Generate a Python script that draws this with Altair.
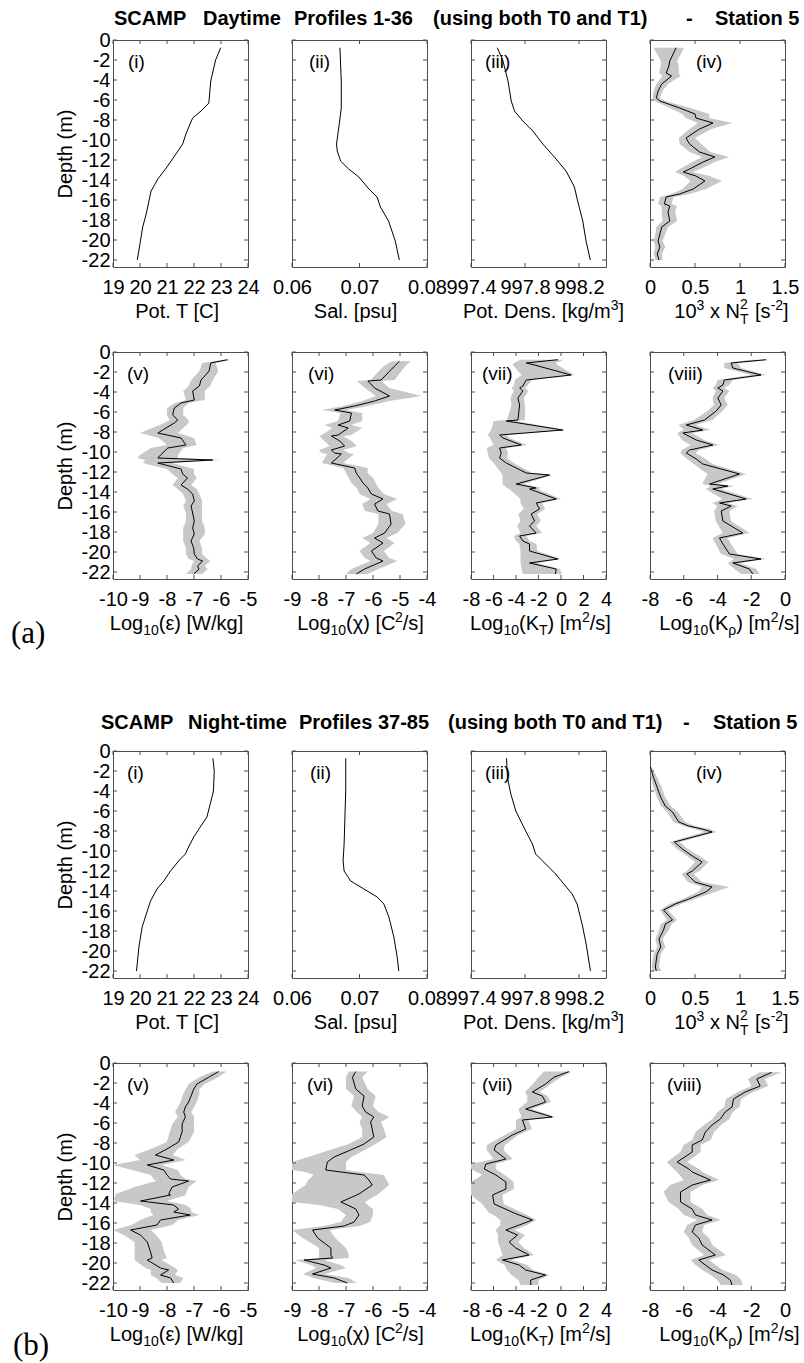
import altair as alt
import pandas as pd

# ---------------- layout / style constants ----------------
W, H = 135, 227
YDOM = [-22.7, 0.0]
YTICKS = [0, -2, -4, -6, -8, -10, -12, -14, -16, -18, -20, -22]
FONT = "Liberation Sans"
SERIF = "Liberation Serif"
BAND = "#c8c8c8"
FRAME = "#4d4d4d"
TICK_LEN = 4
NB = "\u00a0"

# ---------------- x axes ----------------
T_DOM, T_TICKS = [19, 24], [19, 20, 21, 22, 23, 24]
S_DOM, S_TICKS = [0.06, 0.08], [0.06, 0.07, 0.08]
R_DOM, R_TICKS = [997.4, 998.4], [997.4, 997.8, 998.2]
N_DOM, N_TICKS = [0, 1.5], [0, 0.5, 1, 1.5]
E_DOM, E_TICKS = [-10, -5], [-10, -9, -8, -7, -6, -5]
C_DOM, C_TICKS = [-9, -4], [-9, -8, -7, -6, -5, -4]
KT_DOM, KT_TICKS = [-8, 4], [-8, -6, -4, -2, 0, 2, 4]
KR_DOM, KR_TICKS = [-8, 0], [-8, -6, -4, -2, 0]

# ---------------- (a) Daytime profiles ----------------
a_T_d = [-0.77, -2.0, -4.1, -6.3, -7.1, -7.8, -9.4, -10.4, -11.4, -12.8, -13.9, -15.1, -17.4, -18.7, -20.7, -22.0]
a_T = [22.99, 22.80, 22.62, 22.55, 22.26, 21.95, 21.70, 21.58, 21.33, 20.97, 20.66, 20.41, 20.23, 20.10, 19.98, 19.90]

a_S_d = [-0.77, -4.1, -6.8, -8.4, -9.4, -10.4, -11.1, -12.1, -12.9, -13.7, -14.9, -15.7, -16.7, -18.1, -20.1, -22.0]
a_S = [0.0671, 0.0673, 0.0673, 0.0670, 0.0668, 0.0666, 0.0667, 0.0672, 0.0684, 0.0699, 0.0714, 0.0726, 0.0731, 0.0743, 0.0753, 0.0759]

a_R_d = [-0.77, -2.1, -4.1, -6.1, -7.1, -8.1, -9.1, -10.4, -11.7, -13.1, -14.7, -16.1, -18.1, -20.1, -22.0]
a_R = [997.595, 997.637, 997.674, 997.698, 997.722, 997.784, 997.858, 997.932, 998.018, 998.104, 998.166, 998.190, 998.228, 998.252, 998.284]

a_N_d = [-0.77, -2.1, -2.6, -3.3, -3.6, -4.4, -5.1, -5.8, -6.1, -6.8, -7.4, -7.8, -8.3, -8.9, -9.8, -10.4, -11.2, -11.7, -12.2, -12.9,
         -13.2, -13.6, -14.1, -14.9, -15.4, -15.7, -16.4, -16.6, -17.2, -18.1, -18.7, -19.4, -20.1, -20.7, -21.4, -22.0]
a_N = [0.29, 0.22, 0.21, 0.18, 0.24, 0.13, 0.09, 0.07, 0.11, 0.33, 0.50, 0.51, 0.70, 0.55, 0.40, 0.44, 0.55, 0.72, 0.59, 0.44,
       0.37, 0.51, 0.61, 0.48, 0.33, 0.18, 0.16, 0.22, 0.20, 0.22, 0.13, 0.11, 0.09, 0.11, 0.08, 0.10]
a_N_lo = [0.04, 0.12, 0.12, 0.10, 0.14, 0.07, 0.04, 0.03, 0.05, 0.22, 0.36, 0.40, 0.53, 0.44, 0.32, 0.33, 0.44, 0.58, 0.47, 0.33,
          0.28, 0.38, 0.45, 0.36, 0.24, 0.11, 0.09, 0.13, 0.13, 0.14, 0.07, 0.06, 0.04, 0.06, 0.04, 0.06]
a_N_hi = [0.38, 0.30, 0.32, 0.32, 0.34, 0.20, 0.14, 0.11, 0.17, 0.45, 0.66, 0.66, 0.92, 0.68, 0.50, 0.57, 0.67, 0.88, 0.72, 0.56,
          0.47, 0.66, 0.80, 0.62, 0.44, 0.26, 0.24, 0.30, 0.28, 0.30, 0.20, 0.17, 0.14, 0.17, 0.13, 0.14]

a_E_d = [-0.77, -1.1, -1.9, -2.8, -3.4, -3.9, -4.8, -5.1, -5.6, -6.3, -6.8, -7.1, -8.1, -8.6, -9.3, -9.6, -10.3, -10.6, -10.8, -11.1,
         -11.7, -12.2, -12.6, -13.3, -13.7, -14.2, -14.9, -15.4, -16.1, -16.9, -17.6, -18.2, -18.9, -19.6, -20.2, -20.7, -20.9, -21.4, -21.7, -22.2]
a_E = [-5.76, -6.38, -6.44, -6.74, -6.80, -7.05, -6.99, -7.48, -7.73, -7.79, -7.60, -7.73, -8.34, -7.48, -7.30, -7.97, -8.24, -8.34, -6.31, -8.34,
       -7.48, -7.42, -7.24, -7.48, -7.24, -7.05, -6.99, -7.11, -7.05, -6.99, -7.05, -6.99, -7.11, -7.01, -6.99, -6.87, -6.68, -6.87, -6.81, -7.01]
a_E_lo = [-5.9, -6.7, -6.8, -7.1, -7.2, -7.4, -7.3, -7.7, -8.0, -8.0, -7.9, -8.1, -9.0, -8.3, -8.0, -8.6, -9.0, -9.1, -8.8, -8.9,
          -8.0, -7.8, -7.6, -7.8, -7.6, -7.4, -7.3, -7.4, -7.3, -7.3, -7.4, -7.4, -7.4, -7.3, -7.3, -7.2, -7.0, -7.1, -7.1, -7.3]
a_E_hi = [-5.6, -6.2, -6.1, -6.3, -6.4, -6.6, -6.6, -7.2, -7.4, -7.4, -7.2, -7.2, -7.6, -7.0, -6.9, -7.4, -7.6, -7.6, -6.0, -7.8,
          -7.0, -7.0, -6.9, -7.1, -6.9, -6.8, -6.7, -6.7, -6.7, -6.7, -6.6, -6.6, -6.8, -6.7, -6.7, -6.5, -6.4, -6.6, -6.5, -6.7]

a_C_d = [-0.93, -1.4, -2.8, -2.9, -3.6, -4.4, -4.9, -5.4, -5.8, -6.1, -6.9, -7.3, -7.6, -8.3, -8.4, -8.9, -9.4, -9.8, -10.1, -10.2,
         -11.1, -11.6, -12.1, -12.6, -13.1, -13.6, -14.2, -14.7, -15.2, -15.9, -16.2, -17.2, -18.1, -18.6, -19.1, -19.9, -20.6, -20.9, -21.7, -22.2]
a_C = [-5.02, -5.20, -5.70, -6.19, -5.94, -5.39, -5.94, -6.68, -7.42, -6.80, -6.86, -7.29, -6.92, -7.29, -7.54, -7.23, -7.05, -7.54, -7.42, -7.17,
       -7.54, -6.68, -6.62, -6.49, -6.37, -6.19, -6.06, -5.63, -5.94, -5.82, -5.39, -5.33, -5.57, -5.94, -5.63, -6.06, -5.88, -5.63, -6.31, -6.62]
a_C_lo = [-5.3, -5.6, -6.1, -6.6, -6.3, -5.9, -6.4, -7.1, -7.9, -7.2, -7.3, -7.8, -7.5, -7.9, -8.0, -7.8, -7.6, -8.0, -7.9, -7.7,
          -7.9, -7.1, -7.0, -6.9, -6.8, -6.6, -6.5, -6.1, -6.4, -6.3, -5.8, -5.8, -6.0, -6.4, -6.1, -6.5, -6.3, -6.1, -6.8, -7.0]
a_C_hi = [-4.6, -4.8, -5.2, -5.7, -5.4, -4.2, -5.4, -6.2, -7.0, -6.4, -6.4, -6.8, -6.4, -6.8, -7.1, -6.8, -6.6, -7.1, -6.9, -6.7,
          -7.1, -6.2, -6.2, -6.0, -5.9, -5.8, -5.6, -5.1, -5.5, -5.3, -4.9, -4.8, -5.1, -5.5, -5.2, -5.6, -5.4, -5.1, -5.8, -6.2]

a_KT_d = [-0.77, -1.1, -1.3, -2.3, -2.8, -3.4, -3.6, -3.9, -4.6, -5.3, -6.8, -6.9, -7.8, -8.3, -8.6, -9.3, -9.6, -10.1, -10.6, -11.1,
          -12.1, -12.3, -13.2, -13.6, -13.7, -14.7, -15.1, -15.7, -16.2, -16.9, -17.4, -18.1, -18.4, -18.9, -19.2, -19.9, -20.7, -21.1, -21.7, -22.2]
a_KT = [-0.28, -3.09, -2.35, 0.90, -3.09, -3.39, -3.68, -3.39, -3.83, -3.68, -3.83, -4.87, 0.16, -5.46, -5.16, -3.54, -5.46, -5.31, -5.46, -4.87,
        -3.09, -1.02, -3.98, -2.21, -2.80, -0.43, -2.21, -1.91, -2.65, -2.35, -2.80, -2.21, -3.68, -3.39, -2.80, -2.80, -0.28, -2.80, -0.43, -0.49]
a_KT_lo = [-3.6, -4.2, -4.3, -3.5, -4.1, -4.2, -4.4, -4.2, -4.5, -4.4, -4.8, -6.0, -6.2, -6.5, -6.3, -6.0, -6.6, -6.5, -6.4, -6.0,
           -5.3, -5.2, -5.2, -4.8, -4.6, -3.6, -3.6, -3.3, -3.8, -3.6, -3.9, -3.6, -4.2, -4.0, -3.7, -3.6, -3.6, -3.6, -3.5, -3.4]
a_KT_hi = [0.3, -0.5, -0.3, 1.2, -2.6, -3.0, -3.2, -2.9, -3.3, -3.2, -3.2, -4.0, 0.4, -4.8, -4.6, -3.0, -4.9, -4.7, -4.8, -4.2,
           -2.6, -0.8, -3.3, -1.7, -2.1, 0.0, -1.7, -1.4, -2.1, -1.8, -2.2, -1.7, -3.1, -2.8, -2.2, -2.1, 0.0, -2.1, -0.1, 0.1]

a_KR_d = [-0.77, -1.1, -1.6, -2.3, -2.8, -3.3, -3.6, -3.9, -4.6, -5.3, -5.9, -6.8, -7.3, -7.8, -8.1, -8.8, -9.3, -9.8, -10.1, -10.7,
          -11.2, -12.2, -13.2, -13.4, -13.7, -14.7, -15.1, -15.4, -15.9, -16.9, -18.1, -18.6, -19.2, -20.2, -20.7, -21.1, -21.7, -22.2]
a_KR = [-1.12, -3.19, -3.09, -1.42, -3.59, -3.68, -3.98, -3.68, -3.98, -3.78, -4.08, -4.77, -5.85, -4.87, -6.05, -5.26, -4.28, -5.66, -5.85, -5.26,
        -4.87, -2.70, -4.47, -3.39, -4.28, -2.31, -3.88, -3.19, -3.78, -3.68, -2.50, -3.88, -3.68, -3.29, -1.42, -3.09, -2.11, -1.91]
a_KR_lo = [-2.0, -3.6, -3.6, -2.0, -4.0, -4.1, -4.3, -4.1, -4.3, -4.2, -4.6, -5.4, -6.3, -6.0, -6.4, -6.1, -5.6, -6.1, -6.2, -5.8,
           -5.4, -4.6, -4.9, -4.4, -4.7, -3.7, -4.3, -4.0, -4.2, -4.1, -3.7, -4.3, -4.1, -3.8, -3.0, -3.4, -3.0, -2.6]
a_KR_hi = [-0.8, -2.8, -2.6, -1.1, -3.1, -3.3, -3.6, -3.3, -3.6, -3.4, -3.7, -4.3, -5.3, -4.4, -5.5, -4.8, -3.9, -5.1, -5.3, -4.7,
           -4.3, -2.3, -4.0, -3.0, -3.8, -1.9, -3.4, -2.8, -3.3, -3.2, -2.1, -3.4, -3.2, -2.8, -1.1, -2.7, -1.7, -1.5]

# ---------------- (b) Night-time profiles ----------------
b_T_d = [-0.73, -2.0, -4.0, -5.3, -6.6, -7.6, -8.6, -9.6, -10.3, -11.0, -12.0, -13.0, -13.8, -15.0, -16.0, -17.6, -19.6, -22.0]
b_T = [22.70, 22.75, 22.72, 22.60, 22.48, 22.23, 21.99, 21.80, 21.68, 21.43, 21.13, 20.88, 20.63, 20.39, 20.27, 20.08, 19.96, 19.87]

b_S_d = [-0.73, -4.0, -7.3, -9.3, -11.0, -12.0, -13.0, -13.8, -14.6, -15.3, -16.6, -18.6, -20.6, -22.0]
b_S = [0.06796, 0.06796, 0.06781, 0.06772, 0.06757, 0.06772, 0.0687, 0.07066, 0.07263, 0.07361, 0.07435, 0.07509, 0.07558, 0.07582]

b_R_d = [-0.73, -2.66, -4.3, -6.0, -8.0, -9.3, -10.3, -11.3, -12.3, -13.5, -14.3, -15.3, -17.3, -19.3, -22.0]
b_R = [997.663, 997.670, 997.695, 997.732, 997.805, 997.855, 997.879, 997.953, 998.027, 998.100, 998.149, 998.186, 998.223, 998.253, 998.285]

b_N_d = [-1.5, -2.66, -3.65, -4.65, -5.5, -6.1, -7.1, -7.5, -7.8, -8.1, -9.1, -9.8, -10.5, -11.1, -12.0, -12.3, -13.1, -13.6, -14.1, -14.8,
         -15.3, -15.9, -16.9, -17.3, -17.9, -18.8, -19.6, -20.3, -20.9, -21.6, -22.0]
b_N = [0.00, 0.04, 0.08, 0.12, 0.17, 0.25, 0.32, 0.43, 0.58, 0.69, 0.27, 0.36, 0.47, 0.58, 0.47, 0.41, 0.50, 0.69, 0.62, 0.43,
       0.28, 0.15, 0.25, 0.17, 0.15, 0.10, 0.12, 0.08, 0.07, 0.06, 0.07]
b_N_lo = [0.00, 0.01, 0.04, 0.08, 0.12, 0.19, 0.26, 0.37, 0.50, 0.60, 0.22, 0.30, 0.41, 0.50, 0.41, 0.35, 0.42, 0.58, 0.53, 0.36,
          0.22, 0.11, 0.19, 0.12, 0.10, 0.06, 0.08, 0.04, 0.03, 0.02, 0.03]
b_N_hi = [0.01, 0.08, 0.13, 0.17, 0.23, 0.31, 0.39, 0.50, 0.66, 0.74, 0.33, 0.42, 0.55, 0.65, 0.55, 0.48, 0.58, 0.88, 0.72, 0.50,
          0.34, 0.20, 0.30, 0.24, 0.21, 0.14, 0.17, 0.12, 0.11, 0.10, 0.13]

b_E_d = [-0.86, -1.43, -2.1, -2.6, -3.1, -3.9, -4.4, -4.9, -5.4, -6.1, -6.9, -7.9, -8.6, -9.2, -9.7, -10.2, -10.7, -11.2, -11.6, -11.8,
         -12.4, -13.1, -13.2, -13.8, -14.2, -14.6, -14.9, -15.2, -15.7, -16.2, -16.7, -17.2, -17.9, -18.9, -19.5, -19.7, -20.5, -20.7, -21.2, -21.5, -22.0]
b_E = [-6.09, -6.46, -6.89, -7.01, -7.08, -7.20, -7.32, -7.38, -7.32, -7.44, -7.44, -7.57, -8.00, -8.43, -7.75, -8.73, -8.12, -8.00, -7.87, -7.20,
       -7.81, -7.94, -7.87, -8.98, -7.75, -7.57, -7.75, -7.14, -8.24, -8.37, -9.35, -8.98, -8.73, -8.61, -8.55, -8.73, -8.24, -7.94, -8.24, -7.87, -7.75]
b_E_lo = [-6.3, -6.8, -7.2, -7.3, -7.4, -7.5, -7.6, -7.7, -7.6, -7.8, -7.9, -8.0, -8.6, -9.2, -9.0, -10.0, -9.3, -8.6, -8.5, -8.4,
          -9.2, -9.9, -9.9, -10.0, -9.0, -8.6, -8.6, -8.5, -9.0, -9.3, -10.0, -9.6, -9.2, -9.2, -9.2, -9.2, -8.8, -8.6, -8.6, -8.4, -8.2]
b_E_hi = [-5.8, -6.1, -6.6, -6.8, -6.8, -6.9, -7.0, -7.1, -7.0, -7.0, -7.0, -7.2, -7.6, -7.8, -7.3, -8.2, -7.6, -7.5, -7.3, -6.9,
          -7.2, -7.3, -7.3, -8.0, -7.3, -7.1, -7.1, -6.8, -7.6, -7.8, -8.6, -8.4, -8.2, -8.1, -8.0, -8.2, -7.7, -7.6, -7.7, -7.4, -7.5]

b_C_d = [-0.86, -1.43, -2.6, -3.3, -4.3, -4.9, -5.4, -5.9, -6.6, -7.4, -8.1, -8.7, -9.4, -9.9, -10.7, -10.9, -11.2, -11.7, -12.2, -13.1,
         -13.9, -14.2, -14.6, -15.2, -15.9, -16.3, -16.7, -17.5, -18.5, -19.2, -19.5, -19.7, -20.2, -20.5, -21.1, -21.5, -22.0]
b_C = [-6.64, -6.76, -6.64, -6.33, -6.40, -6.27, -5.97, -6.09, -6.03, -5.97, -6.33, -6.83, -7.44, -7.69, -7.75, -7.19, -6.33, -6.15, -6.03, -6.52,
       -7.19, -6.95, -6.64, -6.52, -6.70, -7.07, -8.24, -8.05, -7.56, -7.56, -7.50, -8.55, -7.81, -7.56, -8.24, -7.44, -6.95]
b_C_lo = [-6.9, -7.0, -7.0, -6.7, -6.8, -6.6, -6.4, -6.5, -6.4, -6.4, -6.9, -7.6, -8.4, -9.0, -9.0, -8.5, -8.2, -8.4, -8.5, -9.0,
          -9.0, -8.0, -7.3, -7.0, -7.2, -7.8, -9.0, -8.6, -8.0, -8.0, -8.0, -8.9, -8.3, -8.1, -8.6, -8.2, -7.4]
b_C_hi = [-6.2, -6.4, -6.2, -5.9, -6.0, -5.8, -5.4, -5.7, -5.6, -5.5, -5.9, -6.3, -6.8, -7.0, -7.0, -6.5, -5.6, -5.5, -5.4, -5.8,
          -6.3, -6.2, -6.0, -6.0, -6.1, -6.5, -7.6, -7.4, -7.0, -6.9, -6.9, -7.8, -7.2, -7.0, -7.8, -6.9, -6.6]

b_KT_d = [-0.86, -1.43, -2.1, -2.9, -3.3, -3.9, -4.6, -5.4, -5.7, -6.6, -7.2, -8.2, -8.7, -9.6, -10.1, -10.6, -11.2, -11.9, -12.6, -13.2,
          -14.1, -15.0, -15.2, -15.7, -16.2, -16.7, -17.2, -17.9, -18.5, -19.2, -19.7, -20.2, -20.7, -21.2, -21.7, -22.2]
b_KT = [0.70, -0.63, -1.37, -2.55, -1.66, -1.37, -3.14, -0.78, -3.43, -3.14, -4.31, -5.79, -5.94, -4.90, -6.67, -6.82, -5.79, -4.90, -4.90, -6.08,
        -5.94, -4.17, -3.72, -2.55, -3.72, -4.90, -3.87, -4.61, -4.02, -2.84, -5.20, -3.72, -3.14, -1.37, -2.69, -2.69]
b_KT_lo = [-1.5, -2.0, -2.5, -3.2, -3.0, -3.0, -3.8, -3.5, -4.0, -4.0, -5.0, -6.6, -6.6, -6.0, -8.0, -8.0, -7.0, -8.0, -8.0, -8.0,
           -7.0, -6.4, -6.0, -5.4, -5.4, -5.8, -5.6, -5.6, -5.4, -5.2, -5.8, -5.0, -4.8, -4.4, -3.8, -3.6]
b_KT_hi = [1.0, 0.0, -0.9, -1.9, -1.2, -0.9, -2.6, -0.5, -2.9, -2.6, -3.8, -5.0, -5.1, -4.3, -5.8, -5.8, -5.0, -4.2, -4.2, -5.2,
           -5.1, -3.4, -3.0, -2.2, -3.0, -4.1, -3.2, -3.8, -3.3, -2.4, -4.4, -3.0, -2.5, -1.0, -2.0, -2.0]

b_KR_d = [-0.93, -1.6, -2.3, -2.9, -3.6, -4.4, -4.9, -5.6, -6.2, -6.9, -7.7, -8.2, -8.9, -9.9, -10.6, -10.9, -11.7, -12.2, -12.9, -13.9,
          -14.6, -15.2, -15.7, -16.2, -16.9, -17.5, -18.2, -19.2, -19.7, -20.2, -20.7, -21.2, -21.7, -22.2]
b_KR = [-0.79, -1.67, -1.47, -2.36, -3.05, -3.14, -3.54, -3.83, -4.32, -4.72, -4.91, -5.50, -5.50, -6.39, -5.70, -5.50, -4.42, -5.50, -6.19, -6.19,
        -5.50, -5.31, -4.32, -5.31, -5.50, -5.11, -4.91, -4.13, -5.11, -4.72, -4.32, -3.64, -3.24, -3.14]
b_KR_lo = [-1.5, -2.2, -2.0, -2.8, -3.5, -3.6, -4.0, -4.3, -4.8, -5.3, -5.5, -6.0, -6.2, -7.0, -6.6, -6.4, -6.0, -6.8, -7.2, -6.9,
           -6.3, -6.0, -5.2, -5.8, -6.0, -5.7, -5.5, -4.8, -5.6, -5.3, -4.9, -4.4, -4.0, -3.8]
b_KR_hi = [-0.2, -1.2, -1.0, -1.9, -2.6, -2.7, -3.1, -3.3, -3.8, -4.2, -4.4, -5.0, -5.0, -5.8, -5.1, -4.9, -3.9, -4.9, -5.6, -5.6,
           -4.9, -4.6, -3.8, -4.8, -4.9, -4.5, -4.3, -3.5, -4.5, -4.1, -3.7, -2.9, -2.6, -2.5]

# ---------------- text ----------------
TITLE_A = [("SCAMP", 1), ("Daytime", 90), ("Profiles 1-36", 181), ("(using both T0 and T1)", 320), ("-", 573), ("Station 5", 602)]
TITLE_B = [("SCAMP", -12), ("Night-time", 75), ("Profiles 37-85", 186), ("(using both T0 and T1)", 335), ("-", 570), ("Station 5", 600)]

XT_T = [("Pot. T [C]", "n")]
XT_S = [("Sal. [psu]", "n")]
XT_R = [("Pot. Dens. [kg/m", "n"), ("3", "sup"), ("]", "n")]
XT_N = [("10", "n"), ("3", "sup"), (" ", "gap"), ("x" + NB + "N", "n"), (("2", "T"), "supsub"), (" ", "gap"),
        ("[s", "n"), ("-2", "sup"), ("]", "n")]
XT_E = [("Log", "n"), ("10", "sub"), ("(ε)" + NB + "[W/kg]", "n")]
XT_C = [("Log", "n"), ("10", "sub"), ("(χ)" + NB + "[C", "n"), ("2", "sup"), ("/s]", "n")]
XT_KT = [("Log", "n"), ("10", "sub"), ("(K", "n"), ("T", "sub"), (")" + NB + "[m", "n"), ("2", "sup"), ("/s]", "n")]
XT_KR = [("Log", "n"), ("10", "sub"), ("(K", "n"), ("ρ", "sub"), (")" + NB + "[m", "n"), ("2", "sup"), ("/s]", "n")]

# Arial / Liberation Sans advance widths (per 1000 em)
AW = {" ": 278, NB: 278, "(": 333, ")": 333, "[": 278, "]": 278, "-": 333, ".": 278, "/": 278,
      "ε": 446, "χ": 500, "ρ": 573}
for ch in "0123456789":
    AW[ch] = 556
AW.update({"C": 722, "D": 722, "K": 667, "L": 556, "N": 722, "P": 667, "S": 667, "T": 611, "W": 944,
           "a": 556, "e": 556, "g": 556, "k": 500, "l": 222, "m": 833, "n": 556, "o": 556, "p": 556,
           "s": 500, "t": 278, "u": 556, "x": 500})

TSIZE, SMALL = 20, 14
LSIZE = 20


def tw(s, size):
    return sum(AW.get(c, 556) for c in s) * size / 1000.0


def text_mark(s, x, y, size=19, font=FONT, weight="normal", align="left", baseline="alphabetic"):
    return alt.Chart(alt.Data(values=[{}])).mark_text(
        text=s, font=font, fontSize=size, fontWeight=weight, align=align, baseline=baseline, color="black"
    ).encode(x=alt.value(x), y=alt.value(y))


def rich_title(segs, cx, base):
    widths = []
    for t, k in segs:
        if k in ("n", "gap"):
            widths.append(tw(t, TSIZE))
        elif k == "supsub":
            widths.append(max(tw(t[0], SMALL), tw(t[1], SMALL)) + 1)
        else:
            widths.append(tw(t, SMALL))
    x = cx - sum(widths) / 2.0
    out = []
    for (t, k), w in zip(segs, widths):
        if k == "n":
            out.append(text_mark(t, x, base, TSIZE))
        elif k == "sub":
            out.append(text_mark(t, x, base + 5, SMALL))
        elif k == "sup":
            out.append(text_mark(t, x, base - 8, SMALL))
        elif k == "supsub":
            out.append(text_mark(t[0], x, base - 9, SMALL))
            out.append(text_mark(t[1], x, base + 6, SMALL))
        x += w
    return out


def panel(d, v, xdom, xticks, label, label_x, tsegs, tdx, lo=None, hi=None, first_col=False, extras=()):
    if len(d) != len(v) or (lo is not None and (len(lo) != len(d) or len(hi) != len(d))):
        raise ValueError("length mismatch for panel " + label)
    xs = alt.Scale(domain=xdom, nice=False, zero=False)
    ys = alt.Scale(domain=YDOM, nice=False, zero=False)
    xax = alt.Axis(values=xticks, labelExpr="toString(datum.value)", title=None, domain=False, ticks=False,
                   tickSize=0, grid=False, labelPadding=26, labelBaseline="alphabetic", labelFlush=False,
                   labelOverlap=False)
    if first_col:
        yax = alt.Axis(values=YTICKS, labelExpr="toString(datum.value)", title="Depth (m)", domain=False,
                       ticks=False, tickSize=0, grid=False, labelPadding=3, titlePadding=6, labelFlush=False,
                       labelOverlap=False, labelBaseline="middle")
    else:
        yax = None

    def X(f):
        return alt.X(f, type="quantitative", scale=xs, axis=xax)

    def Y(f):
        return alt.Y(f, type="quantitative", scale=ys, axis=yax)

    layers = []
    if lo is not None:
        bdf = pd.DataFrame({"d": d, "lo": lo, "hi": hi})
        layers.append(alt.Chart(bdf).mark_area(orient="horizontal", color=BAND, opacity=1, clip=True)
                      .encode(y=Y("d"), x=X("lo"), x2=alt.X2("hi")))
    ldf = pd.DataFrame({"d": d, "v": v, "i": list(range(len(d)))})
    layers.append(alt.Chart(ldf).mark_line(color="black", strokeWidth=1, clip=True)
                  .encode(x=X("v"), y=Y("d"), order=alt.Order("i:Q")))
    xt = pd.DataFrame({"t": xticks})
    yt = pd.DataFrame({"t": YTICKS})
    layers.append(alt.Chart(xt).mark_rule(color=FRAME, strokeWidth=1)
                  .encode(x=X("t"), y=alt.value(0), y2=alt.value(TICK_LEN)))
    layers.append(alt.Chart(xt).mark_rule(color=FRAME, strokeWidth=1)
                  .encode(x=X("t"), y=alt.value(H), y2=alt.value(H - TICK_LEN)))
    layers.append(alt.Chart(yt).mark_rule(color=FRAME, strokeWidth=1)
                  .encode(y=Y("t"), x=alt.value(0), x2=alt.value(TICK_LEN)))
    layers.append(alt.Chart(yt).mark_rule(color=FRAME, strokeWidth=1)
                  .encode(y=Y("t"), x=alt.value(W), x2=alt.value(W - TICK_LEN)))
    layers.append(text_mark(label, label_x, 21.5, 19, baseline="middle"))
    layers.extend(rich_title(tsegs, W / 2.0 + tdx, H + 51))
    layers.extend(extras)
    return alt.layer(*layers).properties(width=W, height=H)


def spacer():
    return alt.Chart(alt.Data(values=[{}])).mark_point(opacity=0).encode(
        x=alt.value(0), y=alt.value(0)
    ).properties(width=W, height=2, view=alt.ViewBackground(strokeOpacity=0))


title_a = [text_mark(t, x, -15, 20, weight="bold") for t, x in TITLE_A]
title_b = [text_mark(t, x, -22, 20, weight="bold") for t, x in TITLE_B]
tag_a = [text_mark("(a)", -102, 291, 31, font=SERIF)]
tag_b = [text_mark("(b)", -100, 292, 31, font=SERIF)]

cells = [
    panel(a_T_d, a_T, T_DOM, T_TICKS, "(i)", 15, XT_T, -3, first_col=True, extras=title_a),
    panel(a_S_d, a_S, S_DOM, S_TICKS, "(ii)", 17, XT_S, -4),
    panel(a_R_d, a_R, R_DOM, R_TICKS, "(iii)", 14, XT_R, 5),
    panel(a_N_d, a_N, N_DOM, N_TICKS, "(iv)", 46, XT_N, 14, a_N_lo, a_N_hi),
    panel(a_E_d, a_E, E_DOM, E_TICKS, "(v)", 14, XT_E, -4, a_E_lo, a_E_hi, first_col=True, extras=tag_a),
    panel(a_C_d, a_C, C_DOM, C_TICKS, "(vi)", 16, XT_C, 1, a_C_lo, a_C_hi),
    panel(a_KT_d, a_KT, KT_DOM, KT_TICKS, "(vii)", 11, XT_KT, 2, a_KT_lo, a_KT_hi),
    panel(a_KR_d, a_KR, KR_DOM, KR_TICKS, "(viii)", 18, XT_KR, 12, a_KR_lo, a_KR_hi),
    spacer(), spacer(), spacer(), spacer(),
    panel(b_T_d, b_T, T_DOM, T_TICKS, "(i)", 14, XT_T, -3, first_col=True, extras=title_b),
    panel(b_S_d, b_S, S_DOM, S_TICKS, "(ii)", 18, XT_S, -4),
    panel(b_R_d, b_R, R_DOM, R_TICKS, "(iii)", 14, XT_R, 5),
    panel(b_N_d, b_N, N_DOM, N_TICKS, "(iv)", 46, XT_N, 14, b_N_lo, b_N_hi),
    panel(b_E_d, b_E, E_DOM, E_TICKS, "(v)", 14, XT_E, -4, b_E_lo, b_E_hi, first_col=True, extras=tag_b),
    panel(b_C_d, b_C, C_DOM, C_TICKS, "(vi)", 15, XT_C, 1, b_C_lo, b_C_hi),
    panel(b_KT_d, b_KT, KT_DOM, KT_TICKS, "(vii)", 11, XT_KT, 2, b_KT_lo, b_KT_hi),
    panel(b_KR_d, b_KR, KR_DOM, KR_TICKS, "(viii)", 17, XT_KR, 12, b_KR_lo, b_KR_hi),
]

chart = alt.concat(
    *cells, columns=4, spacing={"row": 85, "column": 44}, bounds="flush"
).properties(
    padding={"left": 10, "top": 8, "right": 0, "bottom": 0}, background="white"
).configure_view(
    stroke=FRAME, strokeWidth=1
).configure_axis(
    labelFont=FONT, labelFontSize=LSIZE, labelColor="black",
    titleFont=FONT, titleFontSize=20, titleFontWeight="normal", titleColor="black"
)

chart.save("out.html", embed_options={"renderer": "svg", "actions": False})
